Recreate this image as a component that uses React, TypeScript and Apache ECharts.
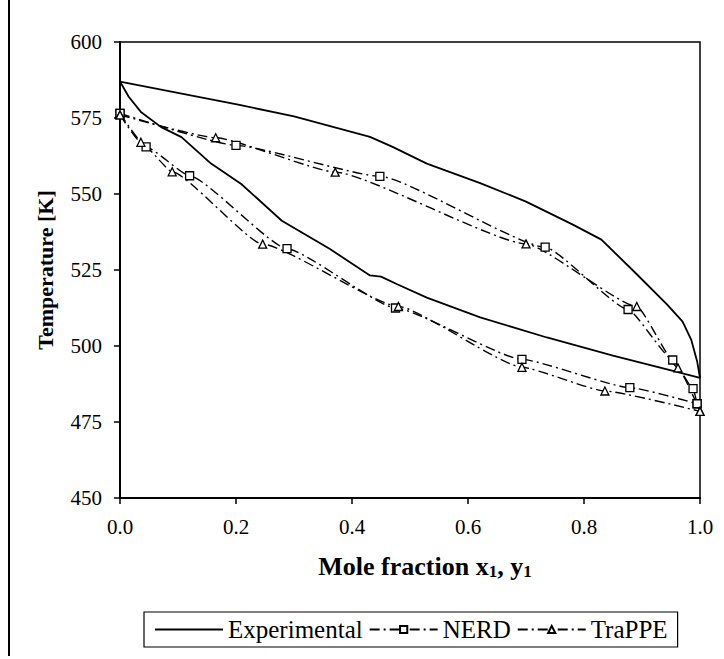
import React, { useEffect, useRef } from "react";
import * as echarts from "echarts";

// Experimental (solid)
const expBubble: number[][] = [
  [0, 587], [0.015, 582], [0.036, 577], [0.071, 572], [0.106, 568.7], [0.157, 560],
  [0.209, 553.3], [0.279, 541.2], [0.362, 531.9], [0.431, 523.2], [0.45, 522.8],
  [0.477, 520.4], [0.529, 515.9], [0.621, 509.4], [0.736, 502.8], [0.85, 496.8],
  [0.95, 492], [1.0, 489.5],
];
const expDew: number[][] = [
  [0, 587], [0.206, 579.3], [0.3, 575.5], [0.431, 568.8], [0.47, 565.5], [0.529, 560],
  [0.621, 553.6], [0.7, 547.5], [0.78, 540], [0.83, 535], [0.891, 523.6], [0.943, 513.7],
  [0.97, 508], [0.985, 502], [0.995, 495], [1.0, 489.5],
];
// NERD (squares)
const nerdBubble: number[][] = [
  [0, 576.5], [0.045, 565.5], [0.12, 556], [0.288, 532], [0.475, 512.5],
  [0.693, 495.6], [0.879, 486.3], [0.995, 481],
];
const nerdDew: number[][] = [
  [0, 576.5], [0.2, 566], [0.448, 555.8], [0.733, 532.5], [0.876, 512],
  [0.953, 495.4], [0.988, 486], [0.995, 481],
];
// TraPPE (triangles)
const trappeBubble: number[][] = [
  [0, 576], [0.036, 567], [0.09, 557.3], [0.246, 533.5], [0.48, 513],
  [0.693, 493], [0.836, 485.2], [1.0, 478.5],
];
const trappeDew: number[][] = [
  [0, 576], [0.165, 568.5], [0.371, 557.2], [0.7, 533.6], [0.891, 513],
  [0.962, 492.8], [1.0, 478.5],
];

const legendNames = ["Experimental", "NERD", "TraPPE"];
const xTitle = "{b|Mole fraction x}{s|1}{b|, y}{s|1}";
const yTitle = "Temperature [K]";

const FONT = "'Liberation Serif', 'Times New Roman', serif";
const dashDot = [10, 4, 2, 4];

export default function App() {
  const ref = useRef<HTMLDivElement>(null);
  useEffect(() => {
    if (!ref.current) return;
    const chart = echarts.init(ref.current, undefined, { renderer: "svg" });
    const simSeries = (name: string, data: number[][], symbol: string) => ({
      name,
      type: "line",
      data,
      symbol,
      symbolSize: 8,
      showAllSymbol: true,
      smooth: 0.15,
      smoothMonotone: "x",
      lineStyle: { color: "#000", width: 1.4, type: dashDot },
      itemStyle: { color: "#fff", borderColor: "#000", borderWidth: 1.3 },
      z: 3,
    });
    const expSeries = (data: number[][]) => ({
      name: legendNames[0],
      type: "line",
      data,
      symbol: "none",
      lineStyle: { color: "#000", width: 1.8, type: "solid" },
      itemStyle: { color: "#000" },
      z: 2,
    });
    chart.setOption({
      animation: false,
      backgroundColor: "#fff",
      textStyle: { fontFamily: FONT, color: "#000" },
      grid: {
        left: 120, right: 24, top: 42, bottom: 161,
        show: true, borderColor: "#000", borderWidth: 1.5, backgroundColor: "transparent",
      },
      legend: {
        data: [
          { name: legendNames[0], itemStyle: { opacity: 0 } },
          { name: legendNames[1] },
          { name: legendNames[2] },
        ],
        left: 144,
        top: 612,
        orient: "horizontal",
        padding: [5, 10, 5, 10],
        borderColor: "#000",
        borderWidth: 1.2,
        itemWidth: 68,
        itemHeight: 9,
        itemGap: 6,
        textStyle: { fontFamily: FONT, fontSize: 25, color: "#000" },
      },
      xAxis: {
        type: "value",
        min: 0,
        max: 1,
        interval: 0.2,
        name: xTitle,
        nameLocation: "middle",
        nameGap: 54,
        nameTextStyle: {
          padding: [0, 0, 0, 30],
          rich: {
            b: { fontFamily: FONT, fontSize: 26, fontWeight: "bold", color: "#000" },
            s: { fontFamily: FONT, fontSize: 17, fontWeight: "bold", color: "#000", padding: [11, 0, 0, 0] },
          },
        },
        axisLine: { show: true, lineStyle: { color: "#000", width: 2 } },
        axisTick: { show: true, inside: false, length: 6, lineStyle: { color: "#000", width: 1.5 } },
        axisLabel: {
          margin: 18,
          fontFamily: FONT,
          fontSize: 21,
          color: "#000",
          formatter: (v: number) => v.toFixed(1),
        },
        splitLine: { show: false },
      },
      yAxis: {
        type: "value",
        min: 450,
        max: 600,
        interval: 25,
        name: yTitle,
        nameLocation: "middle",
        nameGap: 64,
        nameTextStyle: { fontFamily: FONT, fontSize: 22, fontWeight: "bold", color: "#000" },
        axisLine: { show: true, lineStyle: { color: "#000", width: 2 } },
        axisTick: { show: true, inside: false, length: 6, lineStyle: { color: "#000", width: 1.5 } },
        axisLabel: { margin: 18, fontFamily: FONT, fontSize: 21, color: "#000" },
        splitLine: { show: false },
      },
      graphic: [
        {
          type: "line",
          shape: { x1: 9, y1: 0, x2: 9, y2: 656 },
          style: { stroke: "#000", lineWidth: 2 },
        },
      ],
      series: [
        expSeries(expBubble),
        expSeries(expDew),
        simSeries(legendNames[1], nerdBubble, "rect"),
        simSeries(legendNames[1], nerdDew, "rect"),
        simSeries(legendNames[2], trappeBubble, "triangle"),
        simSeries(legendNames[2], trappeDew, "triangle"),
      ],
    });
    return () => chart.dispose();
  }, []);
  return (
    <div
      ref={ref}
      style={{ position: "fixed", left: 0, top: 0, width: 724, height: 659, background: "#fff" }}
    />
  );
}
